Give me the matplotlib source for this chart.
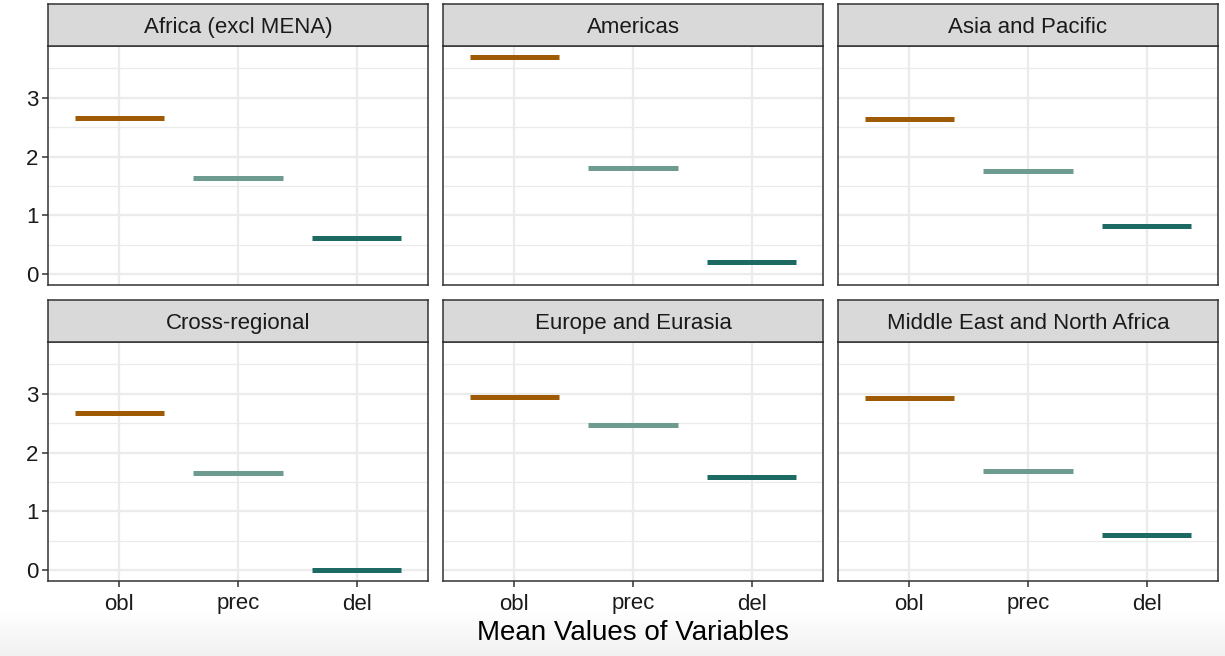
import matplotlib.pyplot as plt
import numpy as np

plt.rcParams['font.family'] = ['Liberation Sans', 'DejaVu Sans']

# mean values per region
regions = ["Africa (excl MENA)", "Americas", "Asia and Pacific",
           "Cross-regional", "Europe and Eurasia", "Middle East and North Africa"]
variables = ["obl", "prec", "del"]
obl = [2.66, 3.69, 2.64, 2.68, 2.95, 2.92]
prec = [1.64, 1.80, 1.75, 1.66, 2.46, 1.68]
dele = [0.61, 0.20, 0.81, 0.00, 1.58, 0.59]
colors = ["#9E5A05", "#6E9B90", "#1D6A63"]

W, H = 1225, 656
fig = plt.figure(figsize=(W / 100, H / 100), dpi=100)

# faint shading along the bottom edge
bg = fig.add_axes([0, 0, 1, 45 / H], zorder=-5)
grad = np.linspace(0, 1, 50).reshape(-1, 1)
bg.imshow(grad, aspect='auto', cmap=plt.matplotlib.colors.LinearSegmentedColormap.from_list(
    "fade", ["#F1F1F1", "#FFFFFF"]), extent=[0, 1, 0, 1], origin='lower')
bg.axis('off')

col_left = [48, 443, 838]
pw = 380
rows = [(4, 46, 285), (300, 342, 581)]  # strip top, panel top, panel bottom
edge = "#333333"

for i, region in enumerate(regions):
    r, c = divmod(i, 3)
    st, pt, pb = rows[r]
    x0 = col_left[c]
    ax = fig.add_axes([x0 / W, 1 - pb / H, pw / W, (pb - pt) / H])
    vals = [obl[i], prec[i], dele[i]]
    xs = np.arange(1, 4)
    for x, v, col in zip(xs, vals, colors):
        ax.hlines(v, x - 0.375, x + 0.375, color=col, lw=3.6, capstyle='butt', zorder=3)
    ax.set_xlim(0.4, 3.6)
    ax.set_ylim(-0.185, 3.88)
    ax.set_xticks(xs)
    ax.set_yticks([0, 1, 2, 3])
    ax.set_yticks([0.5, 1.5, 2.5, 3.5], minor=True)
    ax.grid(True, which='major', color='#EBEBEB', lw=1.6, zorder=0)
    ax.grid(True, which='minor', axis='y', color='#EBEBEB', lw=0.9, zorder=0)
    ax.set_axisbelow(True)
    for s in ax.spines.values():
        s.set_color(edge)
        s.set_linewidth(1.1)
    ax.tick_params(which='minor', length=0)
    ax.tick_params(which='major', color=edge, length=4, width=1.1,
                   labelsize=16, labelcolor='#1A1A1A', pad=3)
    ax.tick_params(axis='x', pad=5)
    if r == 1:
        ax.set_xticklabels(variables)
    else:
        ax.tick_params(axis='x', length=0, labelbottom=False)
    if c == 0:
        ax.set_yticklabels(["0", "1", "2", "3"])
    else:
        ax.tick_params(axis='y', length=0, labelleft=False)

    # facet strip
    sa = fig.add_axes([x0 / W, 1 - pt / H, pw / W, (pt - st) / H])
    sa.set_facecolor('#D9D9D9')
    sa.set_xticks([])
    sa.set_yticks([])
    for s in sa.spines.values():
        s.set_color(edge)
        s.set_linewidth(1.1)
    sa.text(0.5, 0.5, region, ha='center', va='center_baseline', fontsize=16,
            color='#1A1A1A', transform=sa.transAxes)

fig.text(633 / W, 1 - 633 / H, "Mean Values of Variables", ha='center', va='center',
         fontsize=20, color='black')

fig.savefig("out.png", dpi=100)
